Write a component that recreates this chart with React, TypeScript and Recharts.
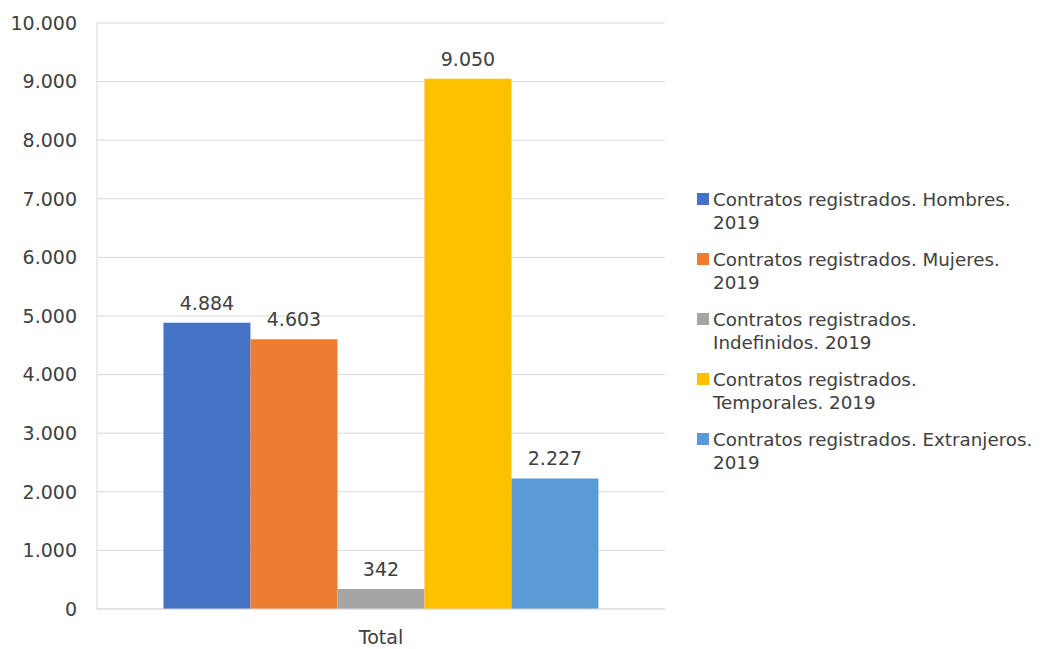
import React from 'react';
import { BarChart, Bar, XAxis, YAxis, CartesianGrid, Legend, LabelList } from 'recharts';

const categories = ['Total'];
const hombres = [4884];
const mujeres = [4603];
const indefinidos = [342];
const temporales = [9050];
const extranjeros = [2227];
const yTicks = [0, 1000, 2000, 3000, 4000, 5000, 6000, 7000, 8000, 9000, 10000];

const seriesKeys = ['hombres', 'mujeres', 'indefinidos', 'temporales', 'extranjeros'];
const seriesNames = [
  'Contratos registrados. Hombres.\n2019',
  'Contratos registrados. Mujeres.\n2019',
  'Contratos registrados.\nIndefinidos. 2019',
  'Contratos registrados.\nTemporales. 2019',
  'Contratos registrados. Extranjeros.\n2019',
];
const seriesColors = ['#4472C4', '#ED7D31', '#A5A5A5', '#FFC000', '#5B9BD5'];

const data = categories.map((name, i) => ({
  name,
  hombres: hombres[i],
  mujeres: mujeres[i],
  indefinidos: indefinidos[i],
  temporales: temporales[i],
  extranjeros: extranjeros[i],
}));

const FONT = '"DejaVu Sans", sans-serif';

// thousands separator with a dot, as in the source
const fmt = (v: number) => String(v).replace(/\B(?=(\d{3})+(?!\d))/g, '.');

const renderLegend = (props: any) => {
  // keep the series order instead of the alphabetical one
  const payload = [...(props.payload || [])].sort(
    (a: any, b: any) => seriesNames.indexOf(a.value) - seriesNames.indexOf(b.value)
  );
  return (
    <div
      style={{
        width: 370,
        paddingLeft: 32,
        boxSizing: 'border-box',
        fontFamily: FONT,
        fontSize: 18.3,
        color: '#404040',
      }}
    >
      {payload.map((entry: any, i: number) => (
        <div
          key={entry.value}
          style={{
            display: 'flex',
            alignItems: 'flex-start',
            lineHeight: '23px',
            marginBottom: i === payload.length - 1 ? 0 : 14,
          }}
        >
          <span
            style={{
              width: 12,
              height: 12,
              background: entry.color,
              marginTop: 5,
              marginRight: 4,
              flex: 'none',
            }}
          />
          <span style={{ whiteSpace: 'pre' }}>{entry.value}</span>
        </div>
      ))}
    </div>
  );
};

export default function App() {
  return (
    <div style={{ position: 'absolute', left: 0, top: 0, background: '#fff' }}>
      <BarChart
        width={1045}
        height={649}
        data={data}
        margin={{ top: 23, right: 10, left: 0, bottom: 10 }}
        barCategoryGap="11.7%"
        barGap={0}
      >
        <CartesianGrid vertical={false} stroke="#D9D9D9" />
        <XAxis
          dataKey="name"
          height={30}
          axisLine={{ stroke: '#D9D9D9' }}
          tickLine={false}
          tickSize={0}
          tickMargin={22}
          tick={{ fill: '#404040', fontSize: 19, fontFamily: FONT }}
        />
        <YAxis
          width={97}
          domain={[0, 10000]}
          ticks={yTicks}
          interval={0}
          tickFormatter={fmt}
          axisLine={{ stroke: '#D9D9D9' }}
          tickLine={false}
          tickSize={0}
          tickMargin={20}
          tick={{ fill: '#404040', fontSize: 19, fontFamily: FONT }}
        />
        <Legend
          layout="vertical"
          align="right"
          verticalAlign="top"
          content={renderLegend}
          wrapperStyle={{ top: 188 }}
        />
        {seriesKeys.map((key, i) => (
          <Bar
            key={key}
            dataKey={key}
            name={seriesNames[i]}
            fill={seriesColors[i]}
            isAnimationActive={false}
          >
            <LabelList
              dataKey={key}
              position="top"
              offset={13}
              formatter={(v: any) => fmt(Number(v))}
              style={{ fill: '#404040', fontSize: 19, fontFamily: FONT }}
            />
          </Bar>
        ))}
      </BarChart>
    </div>
  );
}
